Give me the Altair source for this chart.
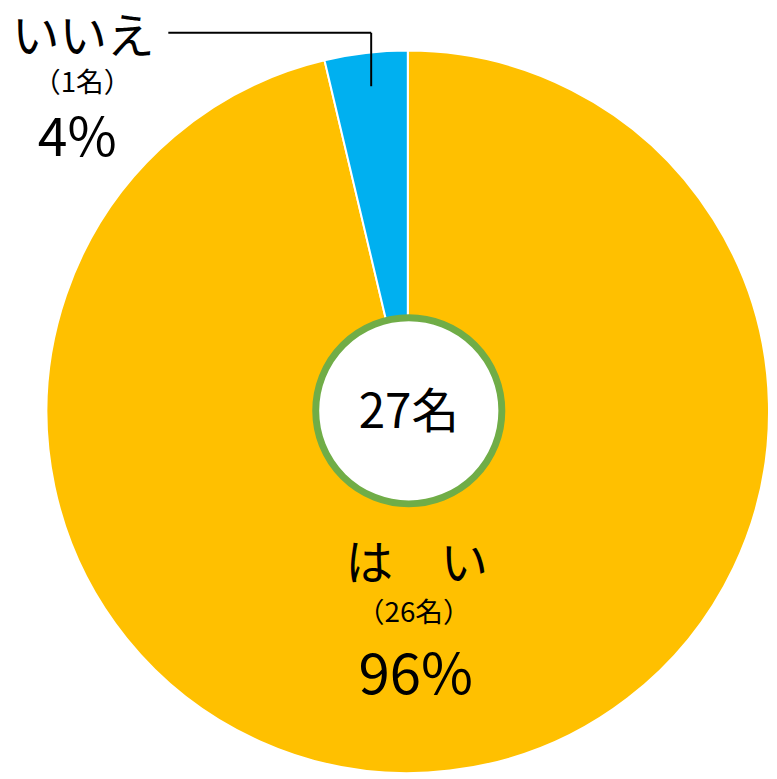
import math
import altair as alt
import pandas as pd

categories = ["はい", "いいえ"]
counts = [26, 1]
percents = ["96%", "4%"]
colors = ["#FFC000", "#00B0F0"]
total_label = "27名"

df = pd.DataFrame({"cat": categories, "n": counts, "ord": [0, 1]})

W, H = 769, 771
CX, CY = 404, 404
FONT = "Noto Sans CJK JP"

pie = alt.Chart(df).mark_arc(radius=365, stroke="white", strokeWidth=2).encode(
    theta=alt.Theta("n:Q", stack=True),
    color=alt.Color("cat:N", scale=alt.Scale(domain=categories, range=colors), legend=None),
    order=alt.Order("ord:Q"),
    x=alt.value(CX), y=alt.value(CY),
)

center = alt.Chart(pd.DataFrame({"a": [0]})).mark_arc(
    theta=0, theta2=2 * math.pi, radius=94, fill="white", stroke="#70AD47", strokeWidth=7
).encode(x=alt.value(CX + 1), y=alt.value(CY - 1))

def label(txt, x, y, size):
    return alt.Chart(pd.DataFrame({"t": [txt]})).mark_text(
        font=FONT, fontSize=size, color="black", align="center", baseline="middle"
    ).encode(text="t:N", x=alt.value(x), y=alt.value(y))

texts = [
    label(total_label, 405, 406, 48),
    label("は　い", 413, 560, 48),
    label(f"（{counts[0]}名）", 410, 608, 28),
    label(percents[0], 412, 672, 57),
    label("いいえ", 76, 27, 48),
    label(f"（{counts[1]}名）", 75, 73, 28),
    label(percents[1], 70, 130, 54),
]

rule_h = alt.Chart(pd.DataFrame({"a": [0]})).mark_rule(color="black", strokeWidth=2).encode(
    x=alt.value(162), x2=alt.value(367), y=alt.value(21)
)
rule_v = alt.Chart(pd.DataFrame({"a": [0]})).mark_rule(color="black", strokeWidth=2).encode(
    x=alt.value(367), y=alt.value(21), y2=alt.value(75)
)

chart = alt.layer(pie, center, rule_h, rule_v, *texts).properties(
    width=W, height=H, padding=0, autosize=alt.AutoSizeParams(type="none")
).configure_view(stroke=None)

chart.save("out.html", embed_options={"renderer": "svg", "actions": False})
